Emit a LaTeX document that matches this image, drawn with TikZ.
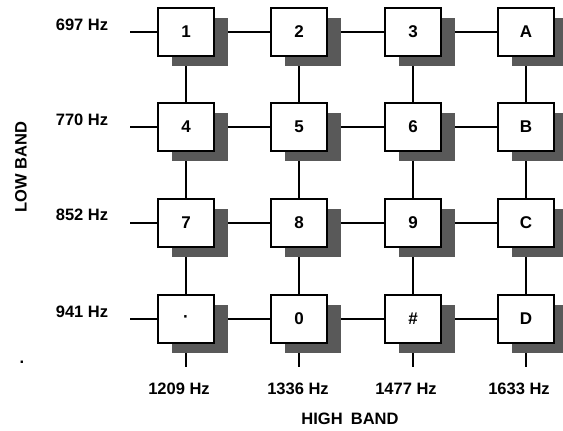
\documentclass[tikz,border=0pt]{standalone}
\usepackage{fontspec}
\setmainfont{Liberation Sans}
\usetikzlibrary{shadows,backgrounds}
\begin{document}
\begin{tikzpicture}[x=1pt,y=-1pt,
  key/.style={draw=black, line width=1.6pt, fill=white, minimum width=56pt, minimum height=48pt,
    inner sep=0pt, font=\bfseries\fontsize{17}{20}\selectfont,
    general shadow={fill=black!65, shadow xshift=14pt, shadow yshift=-10pt}},
  lbl/.style={font=\bfseries\fontsize{16.5}{19}\selectfont, inner sep=0pt},
  wire/.style={line width=1.6pt, black}]
\useasboundingbox (0,0) rectangle (563,431);
% keys
\node[key] (k11) at (186,32) {1};
\node[key] (k12) at (299,32) {2};
\node[key] (k13) at (413,32) {3};
\node[key] (k14) at (526,32) {A};
\node[key] (k21) at (186,127) {4};
\node[key] (k22) at (299,127) {5};
\node[key] (k23) at (413,127) {6};
\node[key] (k24) at (526,127) {B};
\node[key] (k31) at (186,223) {7};
\node[key] (k32) at (299,223) {8};
\node[key] (k33) at (413,223) {9};
\node[key] (k34) at (526,223) {C};
\node[key] (k41) at (186,319) {·};
\node[key] (k42) at (299,319) {0};
\node[key] (k43) at (413,319) {\#};
\node[key] (k44) at (526,319) {D};
% free ends
\coordinate (l1) at (130,32);
\coordinate (l2) at (130,127);
\coordinate (l3) at (130,223);
\coordinate (l4) at (130,319);
\coordinate (b1) at (186,367);
\coordinate (b2) at (299,367);
\coordinate (b3) at (413,367);
\coordinate (b4) at (526,367);
\begin{scope}[on background layer]
  \foreach \r in {1,2,3,4} {
    \draw[wire] (l\r) -- (k\r1.west);
    \draw[wire] (k\r1.east) -- (k\r2.west);
    \draw[wire] (k\r2.east) -- (k\r3.west);
    \draw[wire] (k\r3.east) -- (k\r4.west);
  }
  \foreach \c in {1,2,3,4} {
    \draw[wire] (k1\c.south) -- (k2\c.north);
    \draw[wire] (k2\c.south) -- (k3\c.north);
    \draw[wire] (k3\c.south) -- (k4\c.north);
    \draw[wire] (k4\c.south) -- (b\c);
  }
\end{scope}
% labels
\node[lbl] (f1) at (82,25) {697 Hz};
\node[lbl] (f2) at (82,120) {770 Hz};
\node[lbl] (f3) at (82,215) {852 Hz};
\node[lbl] (f4) at (82,312) {941 Hz};
\node[lbl] (h1) at (179,389) {1209 Hz};
\node[lbl] (h2) at (298,389) {1336 Hz};
\node[lbl] (h3) at (406,389) {1477 Hz};
\node[lbl] (h4) at (519,389) {1633 Hz};
\node[lbl] (hb) at (350,419) {HIGH\hspace{0.5em}BAND};
\node[lbl, rotate=90] (lb) at (21,167) {LOW BAND};
\node[lbl] (dot) at (22,362) {.};
\end{tikzpicture}
\end{document}
